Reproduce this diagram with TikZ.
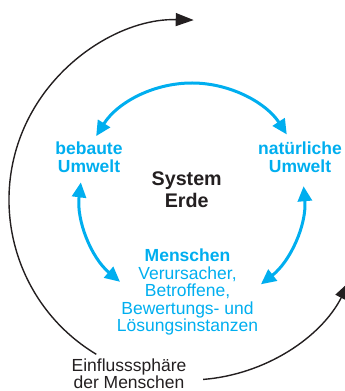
\documentclass[tikz,border=0pt]{standalone}
\usepackage{fontspec}
\setmainfont{Liberation Sans}
\usetikzlibrary{arrows.meta}
\definecolor{cyanblue}{RGB}{0,174,239}
\definecolor{ink}{RGB}{35,31,32}
\begin{document}
\begin{tikzpicture}[x=1pt,y=1pt,
  blk/.style={draw=ink, line width=1.4pt, -{Triangle[length=18pt,width=13pt]}},
  blu/.style={draw=cyanblue, line width=3pt, {Triangle[length=15pt,width=14pt]}-{Triangle[length=15pt,width=14pt]}},
  txt/.style={align=center, inner sep=0pt, anchor=base},
  lbl/.style={txt, text=cyanblue, font={\fontsize{17.5}{17.5}\selectfont\lineskiplimit=-20pt}},
  lblb/.style={lbl, font={\fontsize{17.5}{17.5}\selectfont\bfseries\lineskiplimit=-20pt}},
  sysf/.style={txt, text=ink, font={\fontsize{19.7}{21.8}\selectfont\bfseries\lineskiplimit=-20pt}},
  blkf/.style={txt, text=ink, font={\fontsize{17.5}{16.5}\selectfont\lineskiplimit=-20pt}}]
\useasboundingbox (0,0) rectangle (345,391);
\clip (0,0) rectangle (345,391);
\coordinate (O) at (189,191);
\coordinate (B) at (192,195);
% texts (anchor base = baseline of the last line)
\node[lblb] (beb) at (89,218.5) {bebaute\\Umwelt};
\node[lblb] (nat) at (300,218.5) {natürliche\\Umwelt};
\node[sysf] (sys) at (186.7,183.3) {System\\Erde};
\node[lbl] (men) at (187.5,59.3) {\textbf{Menschen}\\Verursacher,\\Betroffene,\\Bewertungs- und\\Lösungsinstanzen};
\node[blkf] (einf) at (129,2.8) {Einflusssphäre\\der Menschen};
% black arcs
\draw[blk] (O) ++(239:180) arc[start angle=239, end angle=88.5, radius=180];
\draw[blk] (O) ++(274.5:180) arc[start angle=274.5, end angle=333, radius=180];
% blue arcs
\draw[blu] (B) ++(148:113) arc[start angle=148, end angle=33, radius=113];
\draw[blu] (B) ++(173:112) arc[start angle=173, end angle=230, radius=112];
\draw[blu] (B) ++(5:112) arc[start angle=5, end angle=-52, radius=112];
\end{tikzpicture}
\end{document}
